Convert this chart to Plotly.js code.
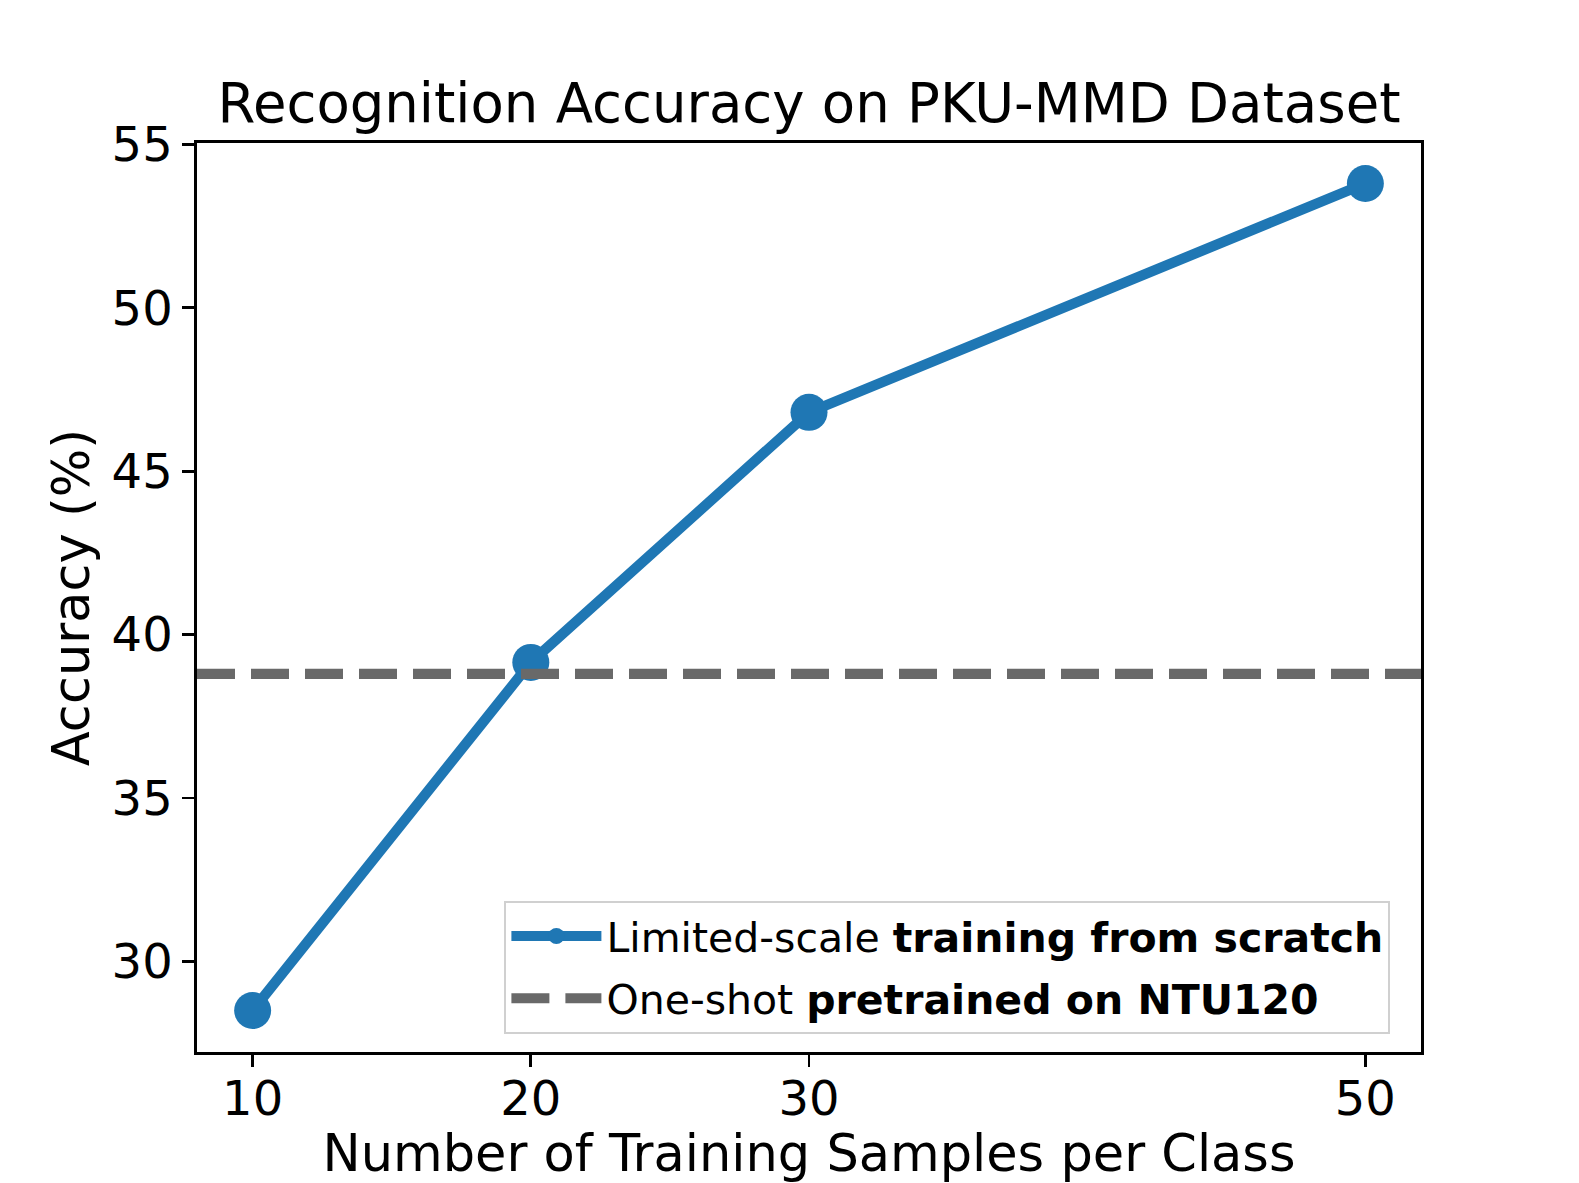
<!DOCTYPE html>
<html>
<head>
<meta charset="utf-8">
<script src="https://cdn.plot.ly/plotly-3.0.1.min.js"></script>
<style>
  html, body { margin: 0; padding: 0; background: #fff; }
  #chart { width: 1579px; height: 1183px; }
</style>
</head>
<body>
<div id="chart"></div>
<script>
// Samples per class on the x axis
var samplesPerClass = [10, 20, 30, 50];
// Accuracy (%) when training from scratch
var scratchAccuracy = [28.5, 39.15, 46.8, 53.8];
// One-shot accuracy when pretrained on NTU120
var oneShotAccuracy = 38.8;

var xTickVals = [10, 20, 30, 50];
var xRange = [8, 52];
var yRange = [27.23, 55.04];

var scratch = {
    x: samplesPerClass,
    y: scratchAccuracy,
    mode: 'lines+markers',
    type: 'scatter',
    name: 'Limited-scale <b>training from scratch</b>',
    legendgroup: 'scratch',
    line: { color: '#1f77b4', width: 10.3 },
    marker: { color: '#1f77b4', size: 37 }
};

var oneShot = {
    x: xRange,
    y: [oneShotAccuracy, oneShotAccuracy],
    mode: 'lines',
    type: 'scatter',
    name: 'One-shot <b>pretrained on NTU120</b>',
    legendgroup: 'oneshot',
    line: { color: '#696969', width: 10.3, dash: '38px,16px' }
};

var font = 'DejaVu Sans, sans-serif';

var layout = {
    width: 1579,
    height: 1183,
    showlegend: true,
    paper_bgcolor: '#fff',
    plot_bgcolor: '#fff',
    font: { family: font, color: '#000' },
    margin: { l: 197, r: 158, t: 143, b: 131 },
    title: {
        text: 'Recognition Accuracy on PKU-MMD Dataset',
        font: { family: font, size: 54.5, color: '#000' },
        x: 0.5,
        xref: 'paper',
        xanchor: 'center',
        y: 1 - 103 / 1183,
        yref: 'container',
        yanchor: 'middle'
    },
    xaxis: {
        range: xRange,
        tickvals: xTickVals,
        ticktext: xTickVals.map(String),
        showgrid: false,
        zeroline: false,
        showline: true,
        mirror: true,
        linecolor: '#000',
        linewidth: 2.7,
        ticks: 'outside',
        ticklen: 12,
        tickwidth: 2.7,
        tickcolor: '#000',
        ticklabelstandoff: -9,
        tickfont: { family: font, size: 48, color: '#000' },
        title: {
            text: 'Number of Training Samples per Class',
            font: { family: font, size: 51, color: '#000' },
            standoff: 36
        }
    },
    yaxis: {
        range: yRange,
        dtick: 5,
        tick0: 0,
        showgrid: false,
        zeroline: false,
        showline: true,
        mirror: true,
        linecolor: '#000',
        linewidth: 2.7,
        ticks: 'outside',
        ticklen: 12,
        tickwidth: 2.7,
        tickcolor: '#000',
        tickfont: { family: font, size: 48, color: '#000' },
        title: {
            text: 'Accuracy (%)',
            font: { family: font, size: 51, color: '#000' },
            standoff: 6
        }
    },
    legend: {
        x: 0.975,
        y: 0.02,
        xanchor: 'right',
        yanchor: 'bottom',
        bgcolor: 'rgba(255,255,255,0.9)',
        bordercolor: '#d0d0d0',
        borderwidth: 2,
        itemwidth: 90,
        tracegroupgap: 6,
        font: { family: font, size: 41, color: '#000' }
    }
};

Plotly.newPlot('chart', [scratch, oneShot], layout, { staticPlot: true });
</script>
</body>
</html>
